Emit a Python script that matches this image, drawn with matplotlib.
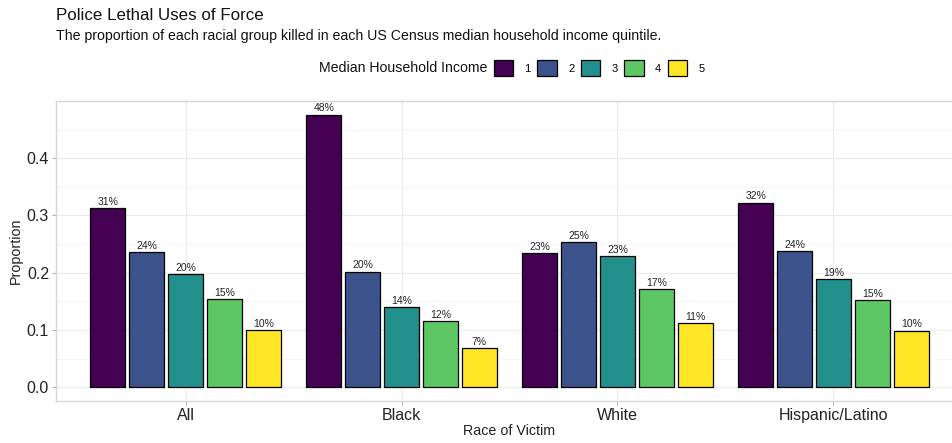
import numpy as np
import matplotlib.pyplot as plt
from matplotlib.patches import Patch

plt.rcParams['font.family'] = ['Liberation Sans', 'DejaVu Sans']

# data
races = ['All', 'Black', 'White', 'Hispanic/Latino']
quintiles = ['1', '2', '3', '4', '5']
q1 = [0.313, 0.476, 0.234, 0.322]
q2 = [0.236, 0.202, 0.253, 0.238]
q3 = [0.198, 0.140, 0.229, 0.189]
q4 = [0.154, 0.116, 0.171, 0.152]
q5 = [0.100, 0.068, 0.112, 0.099]
series = [q1, q2, q3, q4, q5]
colors = ['#440154', '#3B528B', '#21908C', '#5DC863', '#FDE725']

W, H = 952, 443
fig = plt.figure(figsize=(W / 100, H / 100), dpi=100)
# panel runs past the right edge, like the cropped original
ax = fig.add_axes([56 / W, 1 - 401 / H, (963 - 56) / W, 300 / H])

x = np.arange(1, len(races) + 1)
slot = 0.18
for i, vals in enumerate(series):
    pos = x + (i - 2) * slot
    bars = ax.bar(pos, vals, width=slot * 0.9, color=colors[i],
                  edgecolor='black', linewidth=0.9, zorder=3, label=quintiles[i])
    ax.bar_label(bars, labels=[f'{round(v * 100)}%' for v in vals],
                 padding=1, fontsize=7.5, color='#222222')

ax.set_xlim(0.4, 4.6)
ax.set_ylim(-0.0238, 0.4998)
ax.set_xticks(x)
ax.set_xticklabels(races, fontsize=11.5, color='#222222')
ax.set_yticks([0, 0.1, 0.2, 0.3, 0.4])
ax.set_yticklabels(['0.0', '0.1', '0.2', '0.3', '0.4'], fontsize=11.5, color='#222222')
ax.set_yticks([0.05, 0.15, 0.25, 0.35, 0.45], minor=True)
ax.tick_params(axis='both', which='major', length=3, color='#B3B3B3', pad=2)
ax.tick_params(axis='y', which='minor', length=0)

ax.grid(True, which='major', color='#EBEBEB', linewidth=0.8, zorder=0)
ax.grid(True, which='minor', axis='y', color='#F4F4F4', linewidth=0.6, zorder=0)
for s in ax.spines.values():
    s.set_color('#D6D6D6')
    s.set_linewidth(1.0)

ax.set_xlabel('Race of Victim', fontsize=10.3, color='#222222', labelpad=1)
ax.set_ylabel('Proportion', fontsize=10.3, color='#222222', labelpad=3)

fig.text(56 / W, 1 - 20 / H, 'Police Lethal Uses of Force', fontsize=12.2, color='#111111')
fig.text(56 / W, 1 - 40 / H,
         'The proportion of each racial group killed in each US Census median household income quintile.',
         fontsize=10.2, color='#111111')

fig.text(319 / W, 1 - 68 / H, 'Median Household Income', fontsize=10.2, va='center', color='#111111')
handles = [Patch(facecolor=c, edgecolor='black', linewidth=0.9) for c in colors]
fig.legend(handles, quintiles, loc='center left', bbox_to_anchor=(494 / W, 1 - 68 / H),
           ncol=5, frameon=False, fontsize=8, handlelength=1.75, handleheight=1.95,
           handletextpad=1.0, columnspacing=0.6, borderpad=0, borderaxespad=0)

fig.savefig('out.png', dpi=100)
